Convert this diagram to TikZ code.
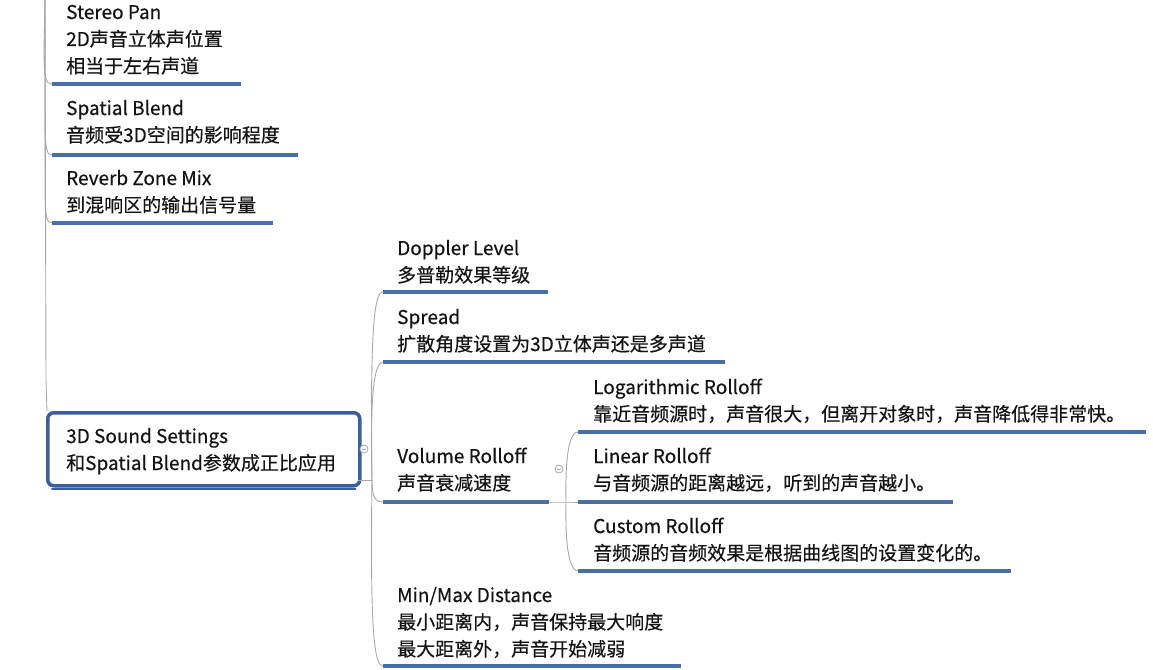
\documentclass[tikz,border=0pt]{standalone}
\usepackage{fontspec}
\setmainfont{Noto Sans CJK SC}[FakeBold=0.35]
\definecolor{ulc}{HTML}{4A6FA8}
\definecolor{boxc}{HTML}{3D5E9E}
\definecolor{connc}{HTML}{A8A8A8}
\definecolor{txt}{HTML}{141414}
\tikzset{
  topic/.style={anchor=base west, align=left, inner sep=0pt, font=\fontsize{19pt}{27pt}\selectfont, text=txt},
  uline/.style={draw=ulc, line width=3.5pt},
  conn/.style={draw=connc, line width=0.9pt},
  mainbox/.style={draw=boxc, line width=3.5pt, rounded corners=6pt, fill=white},
  collapse/.style={circle, draw=connc, line width=0.8pt, minimum size=8pt, inner sep=0pt, fill=white},
}
\begin{document}
\begin{tikzpicture}[x=1pt,y=-1pt]
\useasboundingbox[fill=white] (0,0) rectangle (1153,669);

% coordinates: underline starts and ends
\coordinate (ptop) at (45,0);
\coordinate (spS) at (52,84);   \coordinate (spE) at (241,84);
\coordinate (sbS) at (52,155);  \coordinate (sbE) at (298,155);
\coordinate (rzS) at (52,223);  \coordinate (rzE) at (273,223);
\coordinate (dlS) at (383,292); \coordinate (dlE) at (548,292);
\coordinate (sprS) at (383,362);\coordinate (sprE) at (725,362);
\coordinate (vrS) at (383,502); \coordinate (vrE) at (549,502);
\coordinate (mmS) at (383,666); \coordinate (mmE) at (681,666);
\coordinate (logS) at (578,432);\coordinate (logE) at (1146,432);
\coordinate (linS) at (578,502);\coordinate (linE) at (953,502);
\coordinate (cuS) at (578,571); \coordinate (cuE) at (1011,571);
\coordinate (J) at (372,480);
\coordinate (mainR) at (358,480);
\coordinate (J3) at (566,502);

% left branch connectors
\draw[conn] (ptop) -- (44,49) .. controls (44,79) and (46,84) .. (spS);
\draw[conn] (ptop) -- (45,120) .. controls (45,150) and (47,155) .. (sbS);
\draw[conn] (ptop) -- (45,188) .. controls (45,218) and (47,223) .. (rzS);

% main box
\draw[conn] (ptop) -- (46,380) -- (47,411);
\node[mainbox, anchor=north west, minimum width=312pt, minimum height=73pt] (mainbox) at (46,411) {};
\draw[boxc, line width=2pt, line cap=round] ([xshift=6pt,yshift=-1.5pt]mainbox.south west) -- ([xshift=-6pt,yshift=-1.5pt]mainbox.south east);
\node[topic] (maintext) at (66,470) {3D Sound Settings\\和Spatial Blend参数成正比应用};

% right connectors
\draw[conn] (mainR) -- (J);
\draw[conn] (J) .. controls (370,330) and (374,292) .. (dlS);
\draw[conn] (J) .. controls (370,395) and (374,362) .. (sprS);
\draw[conn] (J) .. controls (372,497) and (375,502) .. (vrS);
\draw[conn] (J) .. controls (370,630) and (374,666) .. (mmS);

\draw[conn] (vrE) -- (J3) -- (linS);
\draw[conn] (J3) .. controls (565,452) and (570,432) .. (logS);
\draw[conn] (J3) .. controls (565,550) and (570,571) .. (cuS);

% collapse markers
\node[collapse] (c1) at (364,449) {};
\draw[connc, line width=0.7pt] ([xshift=-2pt]c1.center) -- ([xshift=2pt]c1.center);
\node[collapse] (c2) at (559,469) {};
\draw[connc, line width=0.7pt] ([xshift=-2pt]c2.center) -- ([xshift=2pt]c2.center);

% underlines
\draw[uline] (spS) -- (spE);
\draw[uline] (sbS) -- (sbE);
\draw[uline] (rzS) -- (rzE);
\draw[uline] (dlS) -- (dlE);
\draw[uline] (sprS) -- (sprE);
\draw[uline] (vrS) -- (vrE);
\draw[uline] (mmS) -- (mmE);
\draw[uline] (logS) -- (logE);
\draw[uline] (linS) -- (linE);
\draw[uline] (cuS) -- (cuE);

% topic texts (anchored at the baseline of the last line)
\node[topic] (sp) at (66,73) {Stereo Pan\\2D声音立体声位置\\相当于左右声道};
\node[topic] (sb) at (66,142) {Spatial Blend\\音频受3D空间的影响程度};
\node[topic] (rz) at (66,212) {Reverb Zone Mix\\到混响区的输出信号量};
\node[topic] (dl) at (397,282) {Doppler Level\\多普勒效果等级};
\node[topic] (spr) at (397,351) {Spread\\扩散角度设置为3D立体声还是多声道};
\node[topic] (vr) at (397,490) {Volume Rolloff\\声音衰减速度};
\node[topic] (mm) at (397,656) {Min/Max Distance\\最小距离内，声音保持最大响度\\最大距离外，声音开始减弱};
\node[topic] (log) at (593,421) {Logarithmic Rolloff\\靠近音频源时，声音很大，但离开对象时，声音降低得非常快。};
\node[topic] (lin) at (593,490) {Linear Rolloff\\与音频源的距离越远，听到的声音越小。};
\node[topic] (cu) at (593,560) {Custom Rolloff\\音频源的音频效果是根据曲线图的设置变化的。};
\end{tikzpicture}
\end{document}
